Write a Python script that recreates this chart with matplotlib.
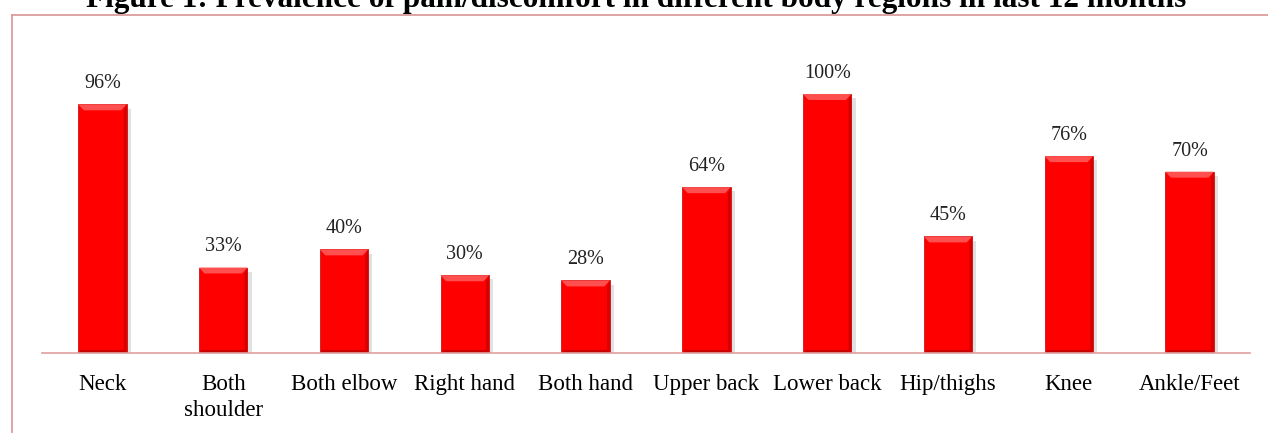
import matplotlib.pyplot as plt
import matplotlib.patheffects as pe
from matplotlib.lines import Line2D
from matplotlib.patches import Polygon

regions = ['Neck', 'Both\nshoulder', 'Both elbow', 'Right hand', 'Both hand',
           'Upper back', 'Lower back', 'Hip/thighs', 'Knee', 'Ankle/Feet']
prevalence = [96, 33, 40, 30, 28, 64, 100, 45, 76, 70]

plt.rcParams['font.family'] = ['Liberation Serif', 'DejaVu Serif']

W, H = 1268, 433
fig = plt.figure(figsize=(W / 100, H / 100), dpi=100)

# axes placed in pixels: x from 42 to 1250, baseline at y=353
ax = fig.add_axes([42 / W, 1 - 353 / H, (1250 - 42) / W, (353 - 40) / H])
ymax = (353 - 40) / 259 * 100

x = range(len(regions))
bw = 0.4
bars = ax.bar(x, prevalence, width=bw, color='#ff0000', edgecolor='#c00000',
              linewidth=0.5, zorder=3)
for b in bars:
    b.set_path_effects([pe.SimplePatchShadow(offset=(3, -3), shadow_rgbFace='#777777', alpha=0.22),
                        pe.Normal()])

# bevel look: lighter top, darker right side and bottom
dx = 0.045
dy = 2.3
for b in bars:
    x0 = b.get_x()
    x1 = x0 + b.get_width()
    h = b.get_height()
    ax.add_patch(Polygon([(x0, h), (x1, h), (x1 - dx, h - dy), (x0 + dx, h - dy)],
                         closed=True, color='#ff5050', lw=0, zorder=4))
    ax.add_patch(Polygon([(x1, h), (x1, 0), (x1 - dx * 0.5, dy * 0.5), (x1 - dx * 0.5, h - dy)],
                         closed=True, color='#d40000', lw=0, zorder=4))
    ax.add_patch(Polygon([(x0, 0), (x1, 0), (x1 - dx * 0.5, dy * 0.5), (x0 + dx * 0.5, dy * 0.5)],
                         closed=True, color='#c80000', lw=0, zorder=4))

for i, v in enumerate(prevalence):
    ax.annotate('%d%%' % v, (i, v), xytext=(0, 8), textcoords='offset points',
                ha='center', va='bottom', fontsize=14.5, color='#222222')

ax.set_xlim(-0.5, len(regions) - 0.5)
ax.set_ylim(0, ymax)
ax.set_xticks(list(x))
ax.set_xticklabels(regions, fontsize=16.5, linespacing=1.35)
ax.tick_params(axis='x', length=0, pad=15)
ax.set_yticks([])
for s in ['top', 'right', 'left']:
    ax.spines[s].set_visible(False)
ax.spines['bottom'].set_color('#e0a0a0')
ax.spines['bottom'].set_linewidth(1.2)
ax.spines['bottom'].set_zorder(5)

# outer frame (pink), top and left edges
fig.add_artist(Line2D([12 / W, 1], [1 - 15 / H, 1 - 15 / H], color='#d99594', lw=1.2))
fig.add_artist(Line2D([12 / W, 12 / W], [0, 1 - 15 / H], color='#d99594', lw=1.2))

# title sits partly above the top edge, as in the source
fig.text(636 / W, 1 - 7 / H,
         'Figure 1: Prevalence of pain/discomfort in different body regions in last 12 months',
         ha='center', va='baseline', fontsize=22.5, fontweight='bold')

fig.savefig('out.png', dpi=100)
